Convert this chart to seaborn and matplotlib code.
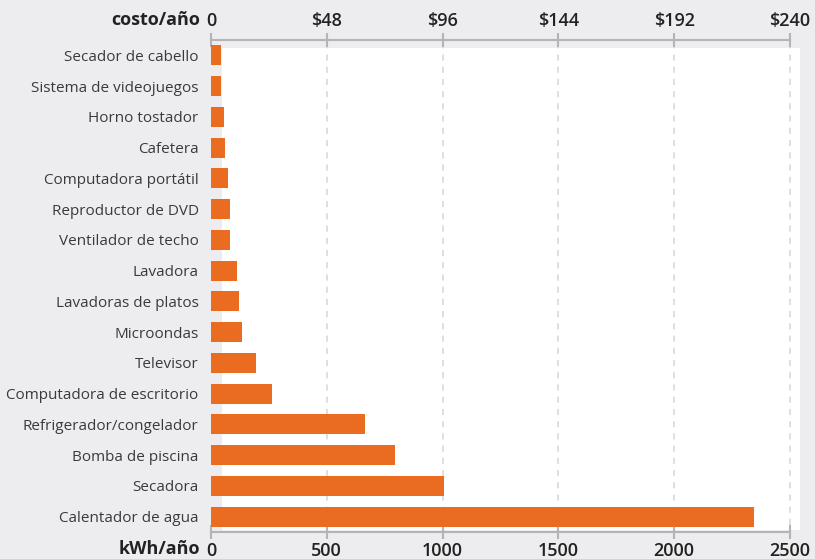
import numpy as np
import pandas as pd
import matplotlib
matplotlib.use("Agg")
import matplotlib.pyplot as plt
from matplotlib.patches import Rectangle
import seaborn as sns

# Annual electricity use per appliance (kWh/year)
appliances = [
    "Secador de cabello",
    "Sistema de videojuegos",
    "Horno tostador",
    "Cafetera",
    "Computadora portátil",
    "Reproductor de DVD",
    "Ventilador de techo",
    "Lavadora",
    "Lavadoras de platos",
    "Microondas",
    "Televisor",
    "Computadora de escritorio",
    "Refrigerador/congelador",
    "Bomba de piscina",
    "Secadora",
    "Calentador de agua",
]
kwh_per_year = [43, 43, 56, 60, 73, 82, 82, 112, 121, 134, 196, 264, 664, 793, 1005, 2346]

kwh_ticks = [0, 500, 1000, 1500, 2000, 2500]
cost_ticks = [0, 48, 96, 144, 192, 240]
cost_per_kwh = 240 / 2500

BG = "#ededef"
BAR = "#ea6c20"
AXIS = "#b4b4b6"

sns.set_theme(style="white")
plt.rcParams["font.family"] = ["Open Sans", "DejaVu Sans"]

df = pd.DataFrame({"appliance": appliances, "kwh": kwh_per_year})

fig = plt.figure(figsize=(8.15, 5.59), dpi=100, facecolor=BG)
W, H = 815, 559
ax = fig.add_axes([211 / W, 1 - 532 / H, 579 / W, 492 / H])
ax.set_facecolor(BG)

sns.barplot(data=df, x="kwh", y="appliance", orient="h", color=BAR,
            saturation=1, width=0.65, linewidth=0, edgecolor="none",
            ax=ax, zorder=3)

ax.set_xlim(0, 2500)
ax.set_ylim(15.5, -0.5)

# white plot panel (slightly offset like the original)
ax.add_patch(Rectangle((48, -0.24), 2543 - 48, 15.66, facecolor="white",
                       edgecolor="none", zorder=0, clip_on=False))

for x in kwh_ticks[1:]:
    ax.axvline(x, ymin=0.015, ymax=0.985, color="#d6d6d8", lw=1.1,
               ls=(0, (4, 4)), zorder=1, clip_on=False)

for s in ["left", "right"]:
    ax.spines[s].set_visible(False)
ax.spines["bottom"].set_color(AXIS)
ax.spines["bottom"].set_linewidth(1.5)
ax.spines["top"].set_visible(False)

ax.set_xticks(kwh_ticks)
ax.set_xticklabels([str(t) for t in kwh_ticks])
ax.tick_params(axis="x", direction="inout", length=10, width=1.5, color=AXIS,
               labelsize=13, labelcolor="#222222", pad=2, bottom=True)
ax.tick_params(axis="y", length=0, labelsize=11, labelcolor="#3a3a3a", pad=9)
for lbl in ax.get_xticklabels():
    lbl.set_fontweight("semibold")
ax.set_xlabel("")
ax.set_ylabel("")

sec = ax.secondary_xaxis("top", functions=(lambda x: x * cost_per_kwh,
                                           lambda c: c / cost_per_kwh))
sec.set_xticks(cost_ticks)
sec.set_xticklabels(["0"] + [f"${c}" for c in cost_ticks[1:]])
sec.spines["top"].set_color(AXIS)
sec.spines["top"].set_linewidth(1.5)
sec.tick_params(axis="x", direction="inout", length=10, width=1.5, color=AXIS,
                labelsize=13, labelcolor="#222222", pad=2)
for lbl in sec.get_xticklabels():
    lbl.set_fontweight("semibold")

fig.text(200 / W, 1 - 20 / H, "costo/año", ha="right", va="center",
         fontsize=13, fontweight="bold", color="#222222")
fig.text(200 / W, 1 - 549 / H, "kWh/año", ha="right", va="center",
         fontsize=13, fontweight="bold", color="#222222")

fig.savefig("out.png", dpi=100, facecolor=BG)
